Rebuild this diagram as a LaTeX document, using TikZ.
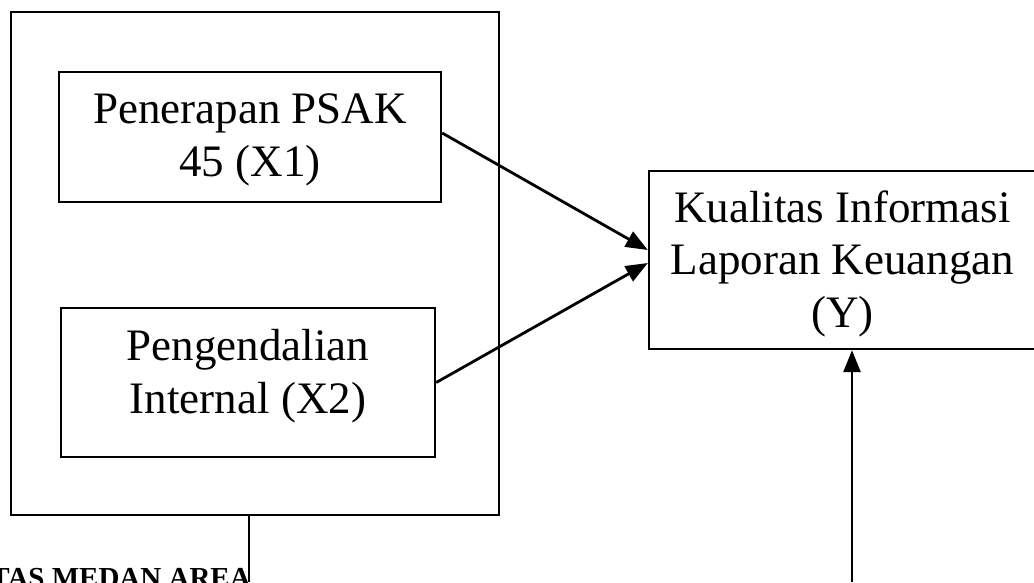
\documentclass[tikz,border=0pt]{standalone}
\usepackage{fontspec}
\setmainfont{Liberation Serif}
\usetikzlibrary{arrows.meta,calc}
\begin{document}
\begin{tikzpicture}[x=1pt,y=-1pt,
  box/.style={draw, line width=2.4pt, inner sep=0pt, rectangle},
  lbl/.style={font=\fontsize{45}{52}\selectfont, inner sep=0pt, anchor=base},
  arr/.style={-{Triangle[length=22pt,width=17pt]}, line width=2.8pt},
  plain/.style={line width=2.4pt}]
\useasboundingbox (0,0) rectangle (1034,582);
% boxes
\node[box, minimum width=488pt, minimum height=503pt] (outer) at (255,263.5) {};
\node[box, minimum width=382pt, minimum height=130pt] (x1) at (250,137) {};
\node[box, minimum width=374pt, minimum height=149pt] (x2) at (248,382.5) {};
\node[box, minimum width=390pt, minimum height=178pt] (y) at (844,260) {};
% texts
\node[lbl] (x1a) at (250,123) {Penerapan PSAK};
\node[lbl] (x1b) at (250,176) {45 (X1)};
\node[lbl] (x2a) at (248,360) {Pengendalian};
\node[lbl] (x2b) at (248,413) {Internal (X2)};
\node[lbl] (ya) at (842.5,222) {Kualitas Informasi};
\node[lbl] (yb) at (842.5,274.5) {Laporan Keuangan};
\node[lbl] (yc) at (842.5,327) {(Y)};
% connectors
\draw[arr] ($(x1.east)+(0,-4)$) -- ($(y.west)+(0,-10)$);
\draw[arr] (x2.east) -- ($(y.west)+(0,3)$);
\coordinate (b) at (852,582);
\draw[arr] (b) -- (b |- y.south);
\coordinate (c) at (249,582);
\draw[plain] (c |- outer.south) -- (c);
% partial bottom text
\node[font=\bfseries\fontsize{29}{34}\selectfont, anchor=base east, inner sep=0pt] (wm) at (251,587) {TAS MEDAN AREA};
\end{tikzpicture}
\end{document}
